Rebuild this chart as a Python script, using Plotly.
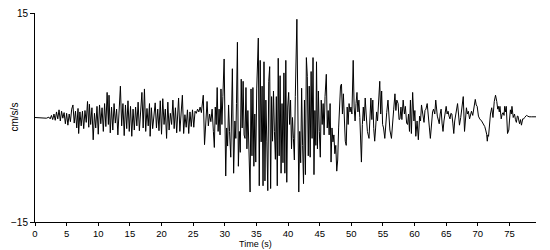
import plotly.graph_objects as go

# Time (s) and acceleration (cm/s/s)
time_s = [
    0, 0.8, 1.0, 1.3, 1.8, 2.2, 2.4, 2.6, 2.8, 3.0,
    3.2, 3.4, 3.6, 3.8, 4.0, 4.2, 4.4, 4.6, 4.8, 5.0,
    5.2, 5.4, 5.6, 5.8, 6.0, 6.2, 6.4, 6.6, 6.8, 6.9,
    7.1, 7.3, 7.5, 7.7, 7.9, 8.1, 8.3, 8.5, 8.6, 8.8,
    9.0, 9.2, 9.4, 9.6, 9.8, 10.0, 10.2, 10.4, 10.6, 10.8,
    11.0, 11.2, 11.4, 11.6, 11.7, 11.9, 12.1, 12.3, 12.5, 12.7,
    12.9, 13.1, 13.3, 13.5, 13.7, 13.9, 14.1, 14.3, 14.5, 14.7,
    14.9, 15.1, 15.3, 15.5, 15.7, 15.9, 16.1, 16.3, 16.5, 16.7,
    16.9, 17.1, 17.3, 17.5, 17.7, 17.9, 18.1, 18.2, 18.4, 18.6,
    18.8, 19.0, 19.2, 19.4, 19.6, 19.8, 20.0, 20.2, 20.4, 20.6,
    20.8, 21.0, 21.2, 21.4, 21.6, 21.8, 22.0, 22.2, 22.4, 22.7,
    22.9, 23.1, 23.3, 23.5, 23.7, 23.9, 24.1, 24.3, 24.5, 24.7,
    24.9, 25.1, 25.3, 25.5, 25.7, 25.9, 26.1, 26.3, 26.5, 26.6,
    26.8, 27.0, 27.2, 27.4, 27.6, 27.8, 28.0, 28.2, 28.35, 28.5,
    28.65, 28.8, 28.95, 29.1, 29.25, 29.4, 29.55, 29.7, 29.9, 30.15,
    30.3, 30.45, 30.6, 30.75, 30.95, 31.2, 31.4, 31.6, 31.75, 31.85,
    32.0, 32.15, 32.3, 32.45, 32.6, 32.75, 32.9, 33.05, 33.2, 33.35,
    33.5, 33.65, 33.8, 34.0, 34.15, 34.3, 34.45, 34.6, 34.75, 34.9,
    35.05, 35.3, 35.45, 35.6, 35.75, 35.9, 36.05, 36.2, 36.35, 36.5,
    36.65, 36.8, 36.95, 37.1, 37.25, 37.4, 37.55, 37.7, 37.85, 38.0,
    38.15, 38.3, 38.45, 38.6, 38.75, 38.9, 39.05, 39.2, 39.35, 39.5,
    39.65, 39.8, 39.95, 40.1, 40.25, 40.4, 40.55, 40.7, 40.85, 41.0,
    41.15, 41.4, 41.7, 41.85, 42.0, 42.15, 42.3, 42.45, 42.6, 42.75,
    42.9, 43.05, 43.2, 43.35, 43.5, 43.65, 43.8, 43.95, 44.1, 44.25,
    44.4, 44.5, 44.65, 44.8, 44.95, 45.1, 45.25, 45.4, 45.55, 45.7,
    45.85, 46.05, 46.2, 46.35, 46.5, 46.65, 46.8, 46.95, 47.1, 47.25,
    47.4, 47.55, 47.7, 47.85, 48.0, 48.15, 48.3, 48.45, 48.6, 48.75,
    48.9, 49.05, 49.2, 49.35, 49.5, 49.65, 49.8, 49.95, 50.1, 50.3,
    50.45, 50.6, 50.75, 50.9, 51.05, 51.2, 51.35, 51.6, 51.75, 51.9,
    52.05, 52.2, 52.35, 52.55, 52.8, 52.95, 53.1, 53.25, 53.4, 53.55,
    53.7, 53.85, 54.0, 54.15, 54.3, 54.5, 54.65, 54.8, 54.95, 55.1,
    55.3, 55.45, 55.6, 55.8, 55.95, 56.1, 56.35, 56.5, 56.7, 56.9,
    57.05, 57.2, 57.4, 57.55, 57.7, 57.85, 58.0, 58.2, 58.4, 58.55,
    58.75, 58.9, 59.05, 59.2, 59.35, 59.5, 59.7, 59.9, 60.05, 60.2,
    60.4, 60.6, 60.8, 60.95, 61.1, 61.3, 61.5, 61.65, 61.8, 62.0,
    62.2, 62.35, 62.5, 62.7, 62.85, 63.0, 63.2, 63.35, 63.5, 63.6,
    63.8, 63.9, 64.05, 64.2, 64.35, 64.5, 64.65, 64.8, 65.0, 65.15,
    65.3, 65.45, 65.6, 65.75, 65.9, 66.05, 66.2, 66.35, 66.5, 66.65,
    66.8, 66.95, 67.1, 67.3, 67.5, 67.7, 67.9, 68.05, 68.2, 68.35,
    68.5, 68.7, 68.85, 69.0, 69.2, 69.4, 69.6, 69.75, 69.9, 70.1,
    70.3, 70.6, 70.9, 71.1, 71.25, 71.4, 71.5, 71.6, 71.7, 71.85,
    72.0, 72.2, 72.4, 72.6, 72.8, 73.0, 73.15, 73.25, 73.4, 73.5,
    73.7, 73.85, 74.0, 74.15, 74.25, 74.4, 74.5, 74.7, 74.9, 75.0,
    75.15, 75.3, 75.4, 75.6, 75.8, 75.95, 76.1, 76.25, 76.35, 76.5,
    76.6, 76.75, 76.9, 77.1, 77.25, 77.4, 77.55, 77.7, 77.9, 78.1,
    78.5, 79.2,
]

accel = [
    0, 0, -0.1, 0, -0.1, 0.05, -0.2, 0.3, -0.3, 0.5,
    -0.4, 0.8, -0.2, 1.1, -0.5, 0.9, -0.1, 0.7, -0.9, 0.6,
    -1.1, 0.5, -0.6, 1.2, 1.8, -0.8, 0.9, -1.5, 1.3, -2.3,
    0.8, -1.2, 0.9, -1.6, 1.0, -0.7, 2.3, -1.4, 1.9, -1.0,
    1.4, -3.2, 0.6, -1.5, 1.6, -2.4, 1.8, -0.9, 1.4, -2.0,
    2.0, -1.3, 3.6, -1.0, 3.2, -2.2, 1.5, -1.8, 2.0, -0.8,
    1.2, -2.5, 1.6, 4.5, -1.2, 2.0, -2.6, 1.8, -1.6, 2.4,
    -2.0, 1.6, -2.7, 1.2, -1.8, 1.5, -1.2, 2.2, -1.9, 1.0,
    3.6, -1.5, 4.1, -2.0, 1.3, -1.2, 2.0, -2.7, 1.4, -1.6,
    1.0, 2.1, -1.5, 1.2, -1.9, 2.4, -2.4, 2.7, -1.0, 1.2,
    -3.0, 2.2, -1.8, 0.6, -1.0, 2.5, -1.6, 1.4, -2.2, 2.8,
    -2.0, 1.0, 3.2, -2.3, 0.4, -1.4, 1.1, -2.3, 0.8, -1.3,
    1.1, -1.4, 0.9, 0.6, 1.2, 0.8, 1.5, 0.7, 2.0, 3.2,
    -3.9, -0.8, 2.3, -1.2, 0.5, -0.6, 1.2, -2.0, -4.3, 1.5,
    -1.0, 4.3, -2.0, 1.2, -2.5, 4.1, -1.0, 3.0, 8.4, -8.4,
    -1.5, -4.1, 1.8, -2.0, -5.7, 7.0, -8.0, -0.5, -3.0, 2.0,
    10.8, -7.0, -2.0, -5.0, 5.5, -1.5, 5.2, -2.5, -3.0, 4.3,
    -4.5, 1.0, -6.1, -10.7, 4.1, -5.5, 4.3, -7.0, 0.5, -6.4,
    4.1, 11.4, -9.8, 8.2, -3.5, 4.5, -9.8, 8.0, -9.1, 2.5,
    -3.5, -10.5, 5.2, 7.3, -10.2, 3.0, -3.4, 3.8, -2.0, -6.0,
    3.0, -9.8, 8.5, -5.5, 6.0, -8.0, 2.0, -6.5, 6.4, -8.0,
    8.2, -9.3, 1.5, 3.6, -1.0, 2.5, -4.5, 0.0, -3.0, -6.1,
    3.0, 14.1, -10.7, -2.0, -6.5, 4.2, -4.0, -9.5, 2.5, -8.2,
    8.6, 5.9, -5.5, 4.5, -5.7, 6.6, -3.0, 8.6, -8.2, 1.0,
    -4.0, 8.0, -4.5, 3.8, -2.0, -5.7, 2.5, -1.0, 2.0, -2.5,
    3.0, 6.2, -1.5, 1.0, -2.5, 2.0, -6.4, -1.5, -3.5, -2.5,
    -5.2, -4.0, -7.7, -6.1, -1.5, 1.5, 4.5, 4.8, 0.5, 3.4,
    -2.0, -3.4, -4.0, 1.5, -1.0, 2.0, 0.8, 1.5, 0.5, 8.2,
    1.5, -0.5, 2.0, 3.6, 0.8, 2.5, 0.0, -6.4, -1.0, 1.5,
    -0.5, 2.8, 0.5, -2.0, -3.0, 1.0, 2.8, -0.3, 2.5, -1.6,
    -3.4, -1.5, 0.8, -0.5, 2.5, 5.2, 0.5, 3.8, -1.0, -1.5,
    -3.0, 0.0, 0.7, 2.5, -0.5, -1.8, -3.0, -0.5, 1.1, 3.4,
    1.0, 2.5, 2.0, -0.3, -0.2, 1.5, -0.3, 2.5, 0.5, 1.6,
    -0.8, -1.0, 0.5, -2.0, 2.5, -2.3, 3.6, -0.5, 1.0, -2.7,
    -0.5, -3.2, 0.2, -0.5, 1.8, 0.5, -0.7, 1.0, 1.2, 2.0,
    -0.7, -1.5, -3.0, -0.5, 0.8, 1.2, 0.5, 2.5, 0.8, 0.2,
    -0.5, -0.9, 0.5, 1.2, -0.8, -2.0, -0.5, 0.7, 1.6, 0.5,
    0.9, 0.2, -0.2, 0.6, 0.5, -0.8, -2.3, -0.5, 0.5, 1.0,
    2.0, 0.5, -1.1, 0.0, 1.2, 3.0, -2.0, 0.2, 1.4, 0.5,
    0.9, -0.2, 0.5, 0.9, 0.3, 1.4, 2.6, 1.8, 1.6, 0.2,
    -0.2, -0.5, -0.9, -1.3, -1.8, -2.4, -3.4, -2.5, -2.7, -1.0,
    0.5, 1.4, 0.0, 2.3, 3.2, 2.3, 1.2, 1.6, 0.8, 1.6,
    -0.2, 0.5, 0.7, 0.3, 1.6, 0.8, 1.6, -2.3, -1.8, -0.5,
    1.1, 0.5, 1.6, 0.0, 0.5, -0.3, -0.7, 0.2, 0.2, -0.5,
    -0.9, -0.3, -1.1, -0.2, -0.2, 0.0, 0.1, 0.3, 0.2, 0.1,
    0.1, 0.1,
]

x_ticks = [0, 5, 10, 15, 20, 25, 30, 35, 40, 45, 50, 55, 60, 65, 70, 75]
y_ticks = [-15, 15]
x_title = "Time (s)"
y_title = "cm/s/s"

font_family = "Liberation Sans, Arial, sans-serif"

fig = go.Figure()
fig.add_trace(go.Scatter(
    x=time_s, y=accel, mode="lines",
    line=dict(color="black", width=1),
    hoverinfo="skip", showlegend=False,
))

fig.update_layout(
    width=550, height=250,
    margin=dict(l=35, r=14, t=7, b=28),
    paper_bgcolor="white", plot_bgcolor="white",
    font=dict(family=font_family, size=10, color="black"),
    xaxis=dict(
        range=[0, 79.2], tickvals=x_ticks, ticks="outside", ticklen=3,
        tickcolor="black", showline=True, linecolor="black", linewidth=1,
        showgrid=False, zeroline=False, tickfont=dict(size=9.5),
    ),
    yaxis=dict(
        range=[-15, 15], tickvals=y_ticks, ticks="outside", ticklen=4,
        tickcolor="black", showline=True, linecolor="black", linewidth=1,
        showgrid=False, zeroline=False, tickfont=dict(size=10),
    ),
    annotations=[
        dict(text=x_title, xref="paper", yref="paper", x=0.44, y=0,
             yshift=-28, xanchor="center", yanchor="bottom", showarrow=False,
             borderpad=0, font=dict(size=9)),
        dict(text=y_title, xref="paper", yref="paper", x=0, y=0.5,
             xshift=-21, xanchor="center", yanchor="middle", showarrow=False,
             textangle=-90, font=dict(size=10)),
    ],
)

fig.write_html("out.html")
